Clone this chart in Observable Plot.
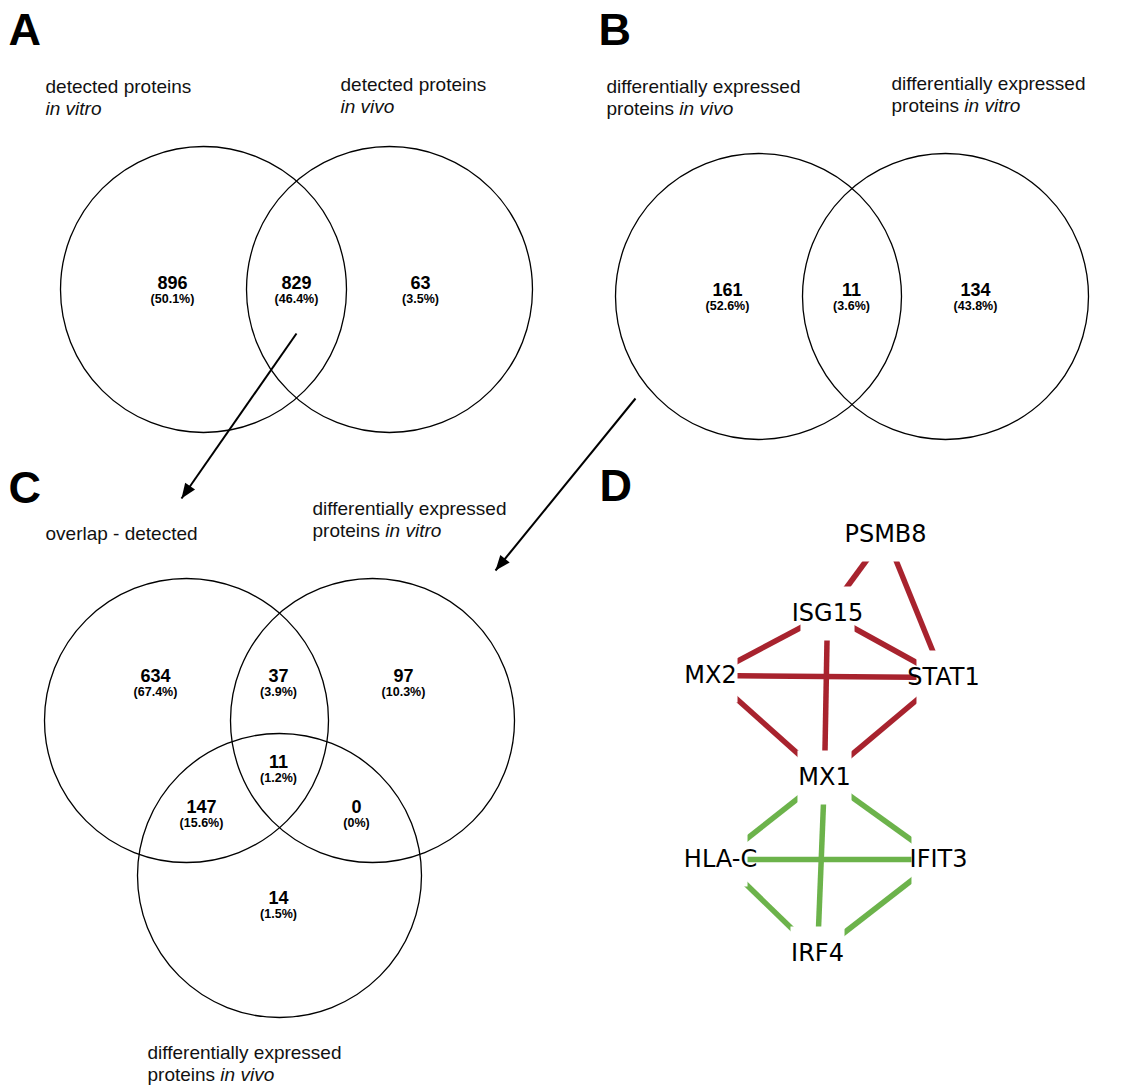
<!DOCTYPE html>
<html>
<head>
<meta charset="utf-8">
<script src="https://cdn.jsdelivr.net/npm/d3@7"></script>
<script src="https://cdn.jsdelivr.net/npm/@observablehq/plot@0.6"></script>
<style>
  body { margin: 0; background: #fff; }
</style>
</head>
<body>
<div id="chart"></div>
<script>
// ---------- data ----------
const panelLetters = ["A", "B", "C", "D"];

// A: detected proteins, in vitro vs in vivo
const vennASets = ["detected proteins in vitro", "detected proteins in vivo"];
const vennARegions = ["in vitro only", "both", "in vivo only"];
const vennACounts = [896, 829, 63];

// B: differentially expressed proteins, in vivo vs in vitro
const vennBSets = ["DE proteins in vivo", "DE proteins in vitro"];
const vennBRegions = ["in vivo only", "both", "in vitro only"];
const vennBCounts = [161, 11, 134];

// C: overlap of A against both DE sets
const vennCSets = ["overlap - detected", "DE proteins in vitro", "DE proteins in vivo"];
const vennCRegions = ["overlap only", "overlap & DE in vitro", "DE in vitro only", "all three",
                      "overlap & DE in vivo", "DE in vitro & DE in vivo", "DE in vivo only"];
const vennCCounts = [634, 37, 97, 11, 147, 0, 14];

// D: interaction network of the 11 shared proteins
const nodeNames = ["PSMB8", "ISG15", "MX2", "STAT1", "MX1", "HLA-C", "IFIT3", "IRF4"];
const redEdges = [["PSMB8", "ISG15"], ["PSMB8", "STAT1"], ["ISG15", "MX2"], ["ISG15", "STAT1"],
                  ["ISG15", "MX1"], ["MX2", "STAT1"], ["MX2", "MX1"], ["STAT1", "MX1"]];
const greenEdges = [["MX1", "HLA-C"], ["MX1", "IFIT3"], ["MX1", "IRF4"],
                    ["HLA-C", "IFIT3"], ["HLA-C", "IRF4"], ["IFIT3", "IRF4"]];

// set titles: each line is [regular part, italic part]
const titleA1 = [["detected proteins", ""], ["", "in vitro"]];
const titleA2 = [["detected proteins", ""], ["", "in vivo"]];
const titleB1 = [["differentially expressed", ""], ["proteins ", "in vivo"]];
const titleB2 = [["differentially expressed", ""], ["proteins ", "in vitro"]];
const titleC1 = [["overlap - detected", ""]];
const titleC2 = [["differentially expressed", ""], ["proteins ", "in vitro"]];
const titleC3 = [["differentially expressed", ""], ["proteins ", "in vivo"]];

// ---------- layout (pixel frame of the figure) ----------
const W = 1125, H = 1085;
const letterPos = {A: [8, 44], B: [598, 44], C: [8, 502], D: [599, 500]};
const circleLayout = {
  A: {r: 143, centers: [[203, 289], [389, 289]]},
  B: {r: 143, centers: [[758, 296], [945, 296]]},
  C: {r: 142, centers: [[186, 720], [372, 720], [279, 875]]}
};
const regionLayout = {
  A: [[172, 288], [296, 288], [420, 288]],
  B: [[727, 295], [851, 295], [975, 295]],
  C: [[155, 681], [278, 681], [403, 681], [278, 767], [201, 812], [356, 812], [278, 903]]
};
const titleLayout = [
  [titleA1, 45, 92], [titleA2, 340, 90],
  [titleB1, 606, 92], [titleB2, 891, 89],
  [titleC1, 45, 539], [titleC2, 312, 514], [titleC3, 147, 1058]
];
const nodePos = {
  "PSMB8": [885, 534], "ISG15": [827, 613], "MX2": [710, 675], "STAT1": [943, 677],
  "MX1": [824, 777], "HLA-C": [720, 859], "IFIT3": [938, 859], "IRF4": [817, 953]
};
// annotation arrows: overlap of A -> set 1 of C, DE set of B -> set 2 of C
const arrowLayout = [
  {from: [296, 333], to: [181, 498]},
  {from: [635, 398], to: [495, 570]}
];

// ---------- derived tables ----------
const sansFont = "'Liberation Sans', Arial, Helvetica, sans-serif";
const titleSize = 19, titleLine = 22.5;

const measureCtx = document.createElement("canvas").getContext("2d");
function textWidth(str, size, style = "normal") {
  measureCtx.font = `${style} ${size}px ${sansFont}`;
  return measureCtx.measureText(str).width;
}

function pct(n, total) {
  return n === 0 ? "(0%)" : `(${(100 * n / total).toFixed(1)}%)`;
}

const circles = [];
const regionLabels = [];
for (const [key, sets, regions, counts] of [
  ["A", vennASets, vennARegions, vennACounts],
  ["B", vennBSets, vennBRegions, vennBCounts],
  ["C", vennCSets, vennCRegions, vennCCounts]
]) {
  const {r, centers} = circleLayout[key];
  sets.forEach((name, i) => circles.push({panel: key, name, x: centers[i][0], y: centers[i][1], r}));
  const total = d3.sum(counts);
  regions.forEach((region, i) => regionLabels.push({
    panel: key, region, count: counts[i], share: pct(counts[i], total),
    x: regionLayout[key][i][0], y: regionLayout[key][i][1]
  }));
}

const titleSegments = [];
for (const [lines, x0, y0] of titleLayout) {
  lines.forEach(([plain, italic], i) => {
    const y = y0 + i * titleLine;
    if (plain.trim()) titleSegments.push({text: plain.trim(), x: x0, y, style: "normal"});
    if (italic) titleSegments.push({text: italic, x: x0 + (plain ? textWidth(plain, titleSize) : 0), y, style: "italic"});
  });
}

const arrows = arrowLayout.map(({from, to}) => {
  const dx = to[0] - from[0], dy = to[1] - from[1];
  return {x1: from[0], y1: from[1], x2: to[0], y2: to[1],
          angle: Math.atan2(dx, -dy) * 180 / Math.PI};
});

// arrowhead: filled narrow triangle with its tip at the origin, pointing up
const arrowHead = {
  draw(ctx, size) {
    const L = Math.sqrt(size);
    ctx.moveTo(0, 0);
    ctx.lineTo(-0.4 * L, L);
    ctx.lineTo(0.4 * L, L);
    ctx.closePath();
  }
};

const nodes = nodeNames.map((name) => ({name, x: nodePos[name][0], y: nodePos[name][1]}));
const edgeRows = (list, kind) => list.map(([a, b]) => ({
  source: a, target: b, kind,
  x1: nodePos[a][0], y1: nodePos[a][1], x2: nodePos[b][0], y2: nodePos[b][1]
}));
const edges = [...edgeRows(redEdges, "red"), ...edgeRows(greenEdges, "green")];

const letters = panelLetters.map((p) => ({text: p, x: letterPos[p][0], y: letterPos[p][1]}));

// ---------- chart ----------
const chart = Plot.plot({
  width: W,
  height: H,
  margin: 0,
  x: {domain: [0, W], range: [0, W], axis: null},
  y: {domain: [0, H], range: [0, H], axis: null},
  r: {type: "identity"},
  style: {background: "white", fontFamily: sansFont},
  marks: [
    // Venn sets
    Plot.dot(circles, {x: "x", y: "y", r: "r", fill: "none", stroke: "black", strokeWidth: 1.3}),
    // region counts and shares
    Plot.text(regionLabels, {x: "x", y: "y", text: (d) => String(d.count), fontSize: 18,
      fontWeight: "bold", lineAnchor: "bottom", fill: "black", fontFamily: sansFont}),
    Plot.text(regionLabels, {x: "x", y: "y", dy: 14, text: "share", fontSize: 12.5,
      fontWeight: "bold", lineAnchor: "bottom", fill: "black", fontFamily: sansFont}),
    // set titles
    Plot.text(titleSegments.filter((d) => d.style === "normal"), {x: "x", y: "y", text: "text",
      textAnchor: "start", lineAnchor: "bottom", fontSize: titleSize, fill: "#111", fontFamily: sansFont}),
    Plot.text(titleSegments.filter((d) => d.style === "italic"), {x: "x", y: "y", text: "text",
      textAnchor: "start", lineAnchor: "bottom", fontSize: titleSize, fontStyle: "italic", fill: "#111", fontFamily: sansFont}),
    // arrows linking the panels
    Plot.link(arrows, {x1: "x1", y1: "y1", x2: "x2", y2: "y2", stroke: "black", strokeWidth: 2}),
    Plot.dot(arrows, {x: "x2", y: "y2", rotate: "angle", symbol: arrowHead, r: 8.5, fill: "black", stroke: "none"}),
    // network edges
    Plot.link(edges, {x1: "x1", y1: "y1", x2: "x2", y2: "y2",
      stroke: (d) => d.kind === "red" ? "#a8232e" : "#6cb34b", strokeWidth: 5.5, strokeLinecap: "butt"}),
    // node boxes keep edges clear of the labels
    Plot.dot(nodes, {x: "x", y: "y", symbol: "square", r: 30.5, fill: "white", stroke: "none"}),
    Plot.text(nodes, {x: "x", y: "y", text: "name", fontSize: 24, fill: "black",
      fontFamily: "'DejaVu Sans', sans-serif"}),
    // panel letters
    Plot.text(letters, {x: "x", y: "y", text: "text", textAnchor: "start", lineAnchor: "bottom",
      fontSize: 45, fontWeight: "bold", fill: "black", fontFamily: sansFont})
  ]
});

document.getElementById("chart").append(chart);
</script>
</body>
</html>
